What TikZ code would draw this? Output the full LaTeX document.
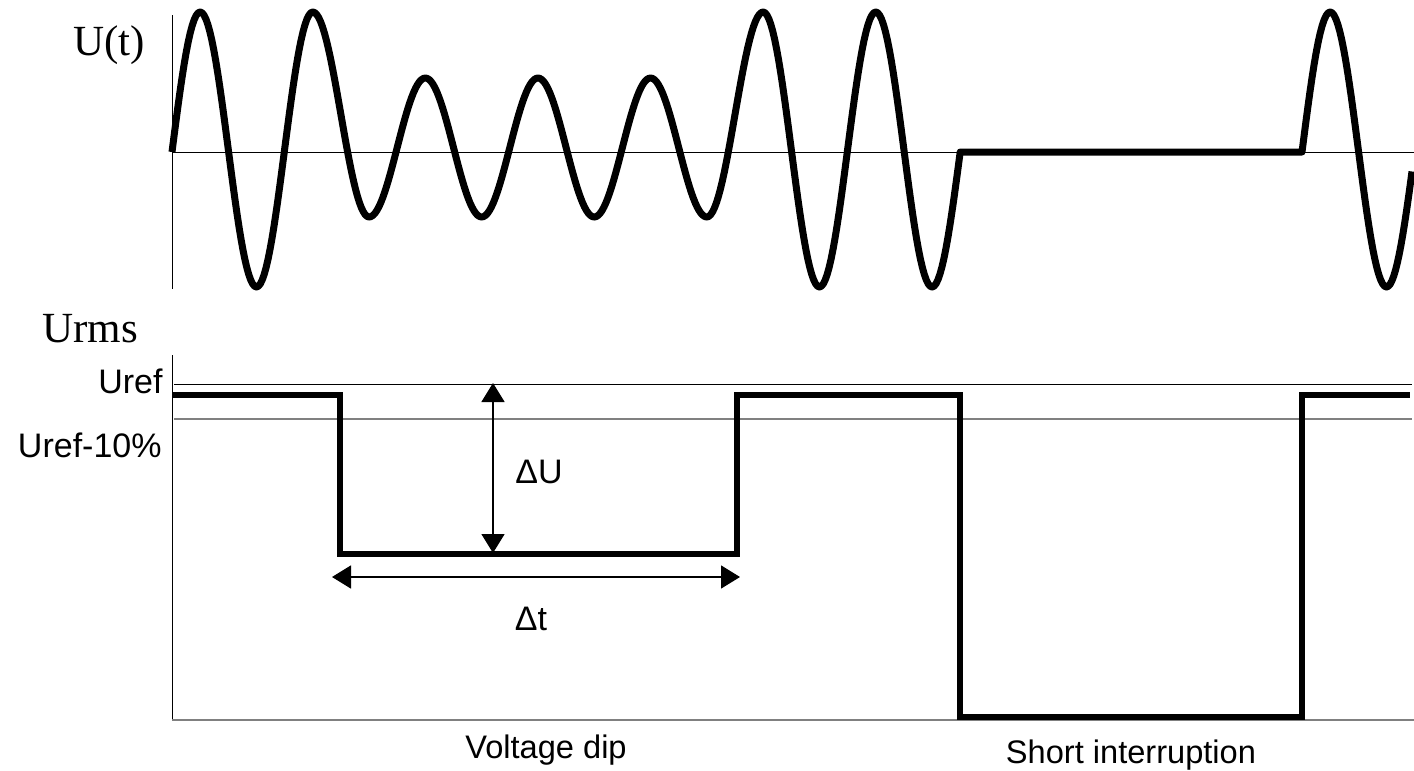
\documentclass[tikz,border=0pt]{standalone}
\usepackage{fontspec}
\setmainfont{Liberation Serif}
\setsansfont{Liberation Sans}
\usetikzlibrary{arrows.meta}

\begin{document}
\begin{tikzpicture}[x=0.5pt,y=-0.5pt,
   wave/.style={line width=3.5pt,line join=round},
   rms/.style={line width=2.6pt,line join=miter},
   axis/.style={line width=0.5pt},
   lim/.style={line width=0.6pt,gray},
   dim/.style={line width=0.8pt,{Triangle[length=9.5pt,width=11.5pt]}-{Triangle[length=9.5pt,width=11.5pt]}},
   serif lbl/.style={font=\fontsize{21.5}{24}\selectfont},
   lbl/.style={font=\sffamily\fontsize{17}{20}\selectfont},
   foot/.style={font=\sffamily\fontsize{16.3}{19}\selectfont}]
\useasboundingbox (0,0) rectangle (1414,771);
% U(t)
\draw[axis] (172,15) -- (172,289);
\draw[axis] (172,152) -- (1414,152);
\draw[wave] (172,152)
  -- plot[domain=172:200.15,samples=15] (\x,{152-140*sin((\x-172)/112.6*360)})
  \foreach \k/\ya/\yb in {0/12/287,1/287/12,2/12/217,3/217/78,4/78/217,5/217/78,6/78/217,
                          7/217/78,8/78/217,9/217/12,10/12/287,11/287/12,12/12/287}
    { -- plot[domain=200.15+\k*56.3:256.45+\k*56.3,samples=30]
         (\x,{(\ya+\yb)/2+(\ya-\yb)/2*cos((\x-200.15-\k*56.3)/56.3*180)}) }
  -- plot[domain=932.05:960.2,samples=15] (\x,{152+135*cos((\x-932.05)/112.6*360)})
  -- (1302,152)
  -- plot[domain=1302:1330.15,samples=15] (\x,{152-140*sin((\x-1302)/112.6*360)})
  -- plot[domain=1330.15:1386.45,samples=30] (\x,{149.5-137.5*cos((\x-1330.15)/56.3*180)})
  -- plot[domain=1386.45:1412,samples=15] (\x,{152+135*cos((\x-1386.45)/112.6*360)});
\node[serif lbl,anchor=base west,inner sep=0pt] (ut) at (73,55) {U(t)};
% Urms
\node[serif lbl,anchor=base west,inner sep=0pt] (urms) at (42,342) {Urms};
\draw[axis] (172,355) -- (172,720);
\draw[lim] (172,720) -- (1414,720);
\draw[axis] (174,384) -- (1412,384);
\draw[lim] (174,419) -- (1412,419);
\node[lbl,anchor=base east,inner sep=0pt] (uref) at (163,393) {Uref};
\node[lbl,anchor=base east,inner sep=0pt] (uref10) at (162,457) {Uref-10\%};
\draw[rms] (172,395) -- (340,395) -- (340,554) -- (737,554) -- (737,395) -- (960,395)
  -- (960,717) -- (1302,717) -- (1302,395) -- (1410,395);
\coordinate (dUtop) at (493,383);
\coordinate (dUbot) at (493,553);
\coordinate (dtl) at (332,577);
\coordinate (dtr) at (740,577);
\draw[dim] (dUtop) -- (dUbot);
\draw[dim] (dtl) -- (dtr);
\node[lbl,anchor=base west,inner sep=0pt] (dU) at (515,483) {ΔU};
\node[lbl,anchor=base,inner sep=0pt] (dt) at (531,630) {Δt};
\node[foot,anchor=base,inner sep=0pt] (dip) at (546,758) {Voltage dip};
\node[foot,anchor=base,inner sep=0pt] (intr) at (1131,763) {Short interruption};
\end{tikzpicture}
\end{document}
